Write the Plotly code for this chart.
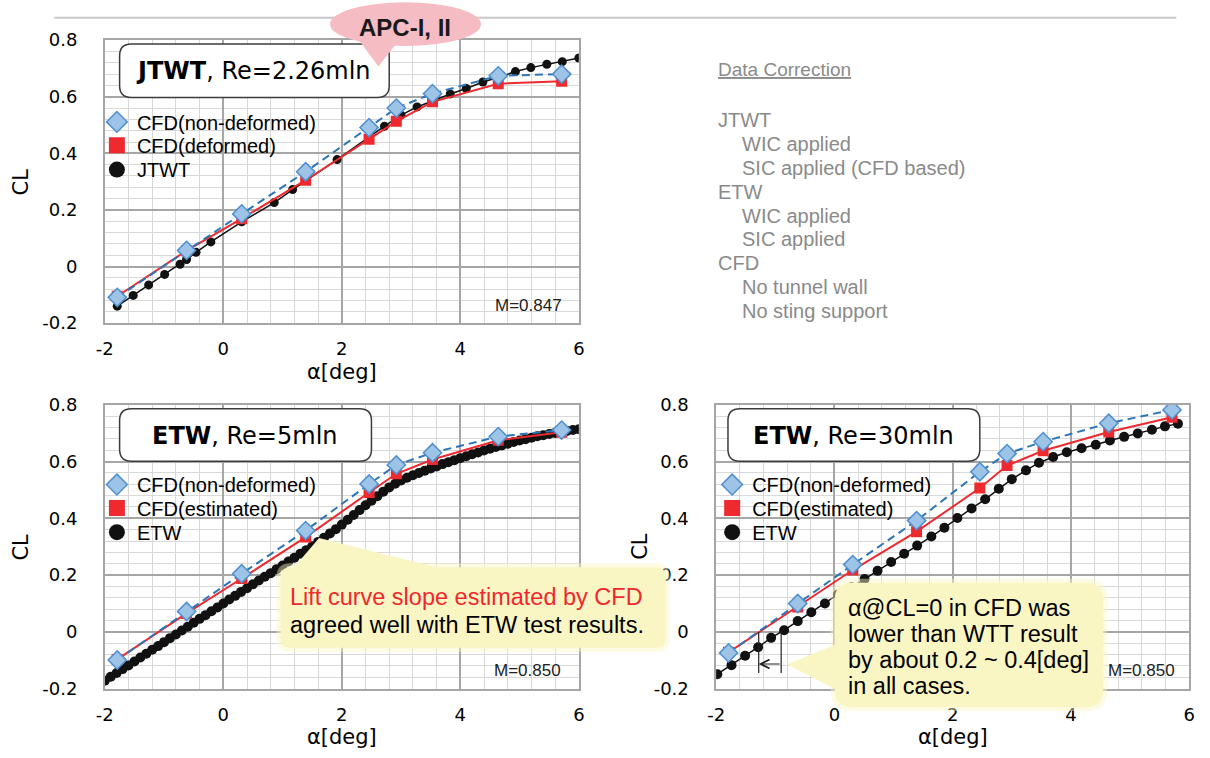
import plotly.graph_objects as go

W, H = 1210, 758

# ---------------- data ----------------
cfd_alpha = [-1.79, -0.62, 0.31, 1.39, 2.46, 2.92, 3.53, 4.64, 5.71]

# Panel 1: JTWT, Re=2.26mln
jtwt_cfd_nondeformed = [-0.109, 0.057, 0.186, 0.335, 0.491, 0.560, 0.611, 0.674, 0.680]
jtwt_cfd_deformed = [-0.105, 0.056, 0.169, 0.305, 0.450, 0.513, 0.582, 0.646, 0.655]
jtwt_alpha = [-1.79, -1.52, -1.26, -0.99, -0.73, -0.62, -0.46, -0.21, 0.31, 0.86, 1.17,
              1.92, 2.72, 3.00, 3.27, 3.83, 4.10, 4.38, 4.65, 4.93, 5.19, 5.46, 5.72, 6.00]
jtwt_cl = [-0.140, -0.102, -0.065, -0.028, 0.008, 0.025, 0.050, 0.087, 0.158, 0.226, 0.272,
           0.378, 0.496, 0.535, 0.564, 0.610, 0.629, 0.652, 0.669, 0.689, 0.703, 0.715, 0.724, 0.737]

# Panel 2: ETW, Re=5mln
etw5_cfd_nondeformed = [-0.099, 0.072, 0.205, 0.357, 0.521, 0.588, 0.631, 0.688, 0.711]
etw5_cfd_estimated = [-0.097, 0.065, 0.188, 0.334, 0.491, 0.557, 0.607, 0.675, 0.703]
etw5_alpha = [-2.0, -1.9, -1.8, -1.7, -1.6, -1.5, -1.4, -1.3, -1.2, -1.1, -1.0, -0.9, -0.8, -0.7,
              -0.6, -0.5, -0.4, -0.3, -0.2, -0.1, 0.0, 0.1, 0.2, 0.3, 0.4, 0.5, 0.6, 0.7, 0.8,
              0.9, 1.0, 1.1, 1.2, 1.3, 1.4, 1.5, 1.6, 1.7, 1.8, 1.9, 2.0, 2.1, 2.2, 2.3, 2.4,
              2.5, 2.6, 2.7, 2.8, 2.9, 3.0, 3.1, 3.2, 3.3, 3.4, 3.5, 3.6, 3.7, 3.8, 3.9, 4.0,
              4.1, 4.2, 4.3, 4.4, 4.5, 4.6, 4.7, 4.8, 4.9, 5.0, 5.1, 5.2, 5.3, 5.4, 5.5, 5.6,
              5.7, 5.8, 5.9, 6.0]
etw5_cl = [-0.172, -0.158, -0.145, -0.131, -0.118, -0.104, -0.090, -0.077, -0.063, -0.050,
           -0.036, -0.022, -0.009, 0.005, 0.018, 0.032, 0.046, 0.059, 0.073, 0.086, 0.100,
           0.114, 0.127, 0.141, 0.154, 0.168, 0.181, 0.194, 0.207, 0.221, 0.234, 0.248,
           0.261, 0.275, 0.288, 0.302, 0.317, 0.332, 0.347, 0.362, 0.378, 0.395, 0.412,
           0.429, 0.446, 0.462, 0.478, 0.494, 0.509, 0.522, 0.533, 0.543, 0.552, 0.560,
           0.568, 0.576, 0.583, 0.591, 0.598, 0.605, 0.612, 0.619, 0.626, 0.632, 0.639,
           0.645, 0.651, 0.657, 0.663, 0.669, 0.674, 0.679, 0.684, 0.689, 0.693, 0.697,
           0.701, 0.704, 0.708, 0.711, 0.714]

# Panel 3: ETW, Re=30mln
etw30_cfd_nondeformed = [-0.074, 0.100, 0.237, 0.392, 0.564, 0.628, 0.670, 0.735, 0.782]
etw30_cfd_estimated = [-0.072, 0.088, 0.218, 0.353, 0.507, 0.586, 0.638, 0.704, 0.756]
etw30_alpha = [-1.98, -1.74, -1.51, -1.29, -1.07, -0.85, -0.62, -0.39, -0.16, 0.06, 0.29,
               0.51, 0.73, 0.96, 1.18, 1.40, 1.64, 1.86, 2.08, 2.32, 2.55, 2.78, 3.00, 3.24,
               3.46, 3.70, 3.93, 4.18, 4.42, 4.66, 4.90, 5.13, 5.37, 5.59, 5.81]
etw30_cl = [-0.149, -0.117, -0.084, -0.054, -0.021, 0.006, 0.038, 0.069, 0.100, 0.132, 0.157,
            0.186, 0.215, 0.246, 0.275, 0.304, 0.336, 0.367, 0.401, 0.435, 0.467, 0.504,
            0.538, 0.569, 0.596, 0.616, 0.633, 0.647, 0.659, 0.674, 0.687, 0.699, 0.712,
            0.724, 0.733]

# zero-lift angles marked in panel 3
alpha_cl0_cfd = -1.28
alpha_cl0_etw = -0.90

x_ticks = [-2, 0, 2, 4, 6]
x_ticktext = ["-2", "0", "2", "4", "6"]
y_ticks = [-0.2, 0, 0.2, 0.4, 0.6, 0.8]
y_ticktext = ["-0.2", "0", "0.2", "0.4", "0.6", "0.8"]

legend_names = [
    ["CFD(non-deformed)", "CFD(deformed)", "JTWT"],
    ["CFD(non-deformed)", "CFD(estimated)", "ETW"],
    ["CFD(non-deformed)", "CFD(estimated)", "ETW"],
]
panel_titles = ["<b>JTWT</b>, Re=2.26mln", "<b>ETW</b>, Re=5mln", "<b>ETW</b>, Re=30mln"]
mach_labels = ["M=0.847", "M=0.850", "M=0.850"]
correction_lines = [
    ("JTWT", 0), ("WIC applied", 1), ("SIC applied (CFD based)", 1),
    ("ETW", 0), ("WIC applied", 1), ("SIC applied", 1),
    ("CFD", 0), ("No tunnel wall", 1), ("No sting support", 1),
]

# ---------------- helpers ----------------
def X(px):
    return px / W

def Y(py):
    return 1 - py / H

def P(x, y):
    return f"{X(x):.5f},{Y(y):.5f}"

def rrect(x0, y0, x1, y1, r):
    return ("M " + P(x0 + r, y0) + " L " + P(x1 - r, y0) + " Q " + P(x1, y0) + " " + P(x1, y0 + r) +
            " L " + P(x1, y1 - r) + " Q " + P(x1, y1) + " " + P(x1 - r, y1) +
            " L " + P(x0 + r, y1) + " Q " + P(x0, y1) + " " + P(x0, y1 - r) +
            " L " + P(x0, y0 + r) + " Q " + P(x0, y0) + " " + P(x0 + r, y0) + " Z")

def poly(pts):
    return "M " + " L ".join(P(a, b) for a, b in pts) + " Z"

# panel pixel boxes (left, top, right, bottom)
panels = [(97, 30, 577, 321), (97, 405, 577, 697), (716, 405, 1195, 697)]

BLUE_LINE = "#2E75B6"
BLUE_FILL = "#9DC3E6"
BLUE_EDGE = "#4F8FD0"
RED = "#EE2A2F"
BLACK = "#111111"

fig = go.Figure()

series = [
    (jtwt_cfd_nondeformed, jtwt_cfd_deformed, jtwt_alpha, jtwt_cl, 9),
    (etw5_cfd_nondeformed, etw5_cfd_estimated, etw5_alpha, etw5_cl, 10),
    (etw30_cfd_nondeformed, etw30_cfd_estimated, etw30_alpha, etw30_cl, 10),
]

# legend rows (pixel): legend left x, row centre y for each panel
legend_rows = [(89, [113, 137, 162]), (89, [486, 510, 535]), (712, [486, 510, 535])]
LEG_DY = 19     # offset from row centre to legend top

legend_defs = {}
leg_counter = 0

def next_legend(xpx, ypx):
    global leg_counter
    leg_counter += 1
    key = "legend" if leg_counter == 1 else f"legend{leg_counter}"
    legend_defs[key] = dict(x=X(xpx), y=Y(ypx - LEG_DY), xanchor="left", yanchor="top",
                            bgcolor="rgba(0,0,0,0)", borderwidth=0,
                            font=dict(family="Liberation Sans, Arial", size=20, color="black"),
                            itemclick=False, itemdoubleclick=False)
    return key

for i, (nd, de, ea, ec, msize) in enumerate(series):
    xa = "x" if i == 0 else f"x{i+1}"
    ya = "y" if i == 0 else f"y{i+1}"
    fig.add_trace(go.Scatter(x=ea, y=ec, mode="lines+markers", xaxis=xa, yaxis=ya,
                             line=dict(color=BLACK, width=1.5),
                             marker=dict(symbol="circle", size=msize, color=BLACK),
                             showlegend=False))
    fig.add_trace(go.Scatter(x=cfd_alpha, y=de, mode="lines+markers", xaxis=xa, yaxis=ya,
                             line=dict(color=RED, width=2),
                             marker=dict(symbol="square", size=11, color=RED),
                             showlegend=False))
    fig.add_trace(go.Scatter(x=cfd_alpha, y=nd, mode="lines+markers", xaxis=xa, yaxis=ya,
                             line=dict(color=BLUE_LINE, width=2, dash="8px,5px"),
                             marker=dict(symbol="diamond", size=14, color=BLUE_FILL,
                                         line=dict(color=BLUE_EDGE, width=1.5)),
                             showlegend=False))
    names = legend_names[i]
    lx, rows = legend_rows[i]
    markers = [
        dict(symbol="diamond", size=20, color=BLUE_FILL, line=dict(color=BLUE_EDGE, width=1.5)),
        dict(symbol="square", size=18, color=RED),
        dict(symbol="circle", size=18, color=BLACK),
    ]
    for name, mk, ry in zip(names, markers, rows):
        lg = next_legend(lx, ry)
        fig.add_trace(go.Scatter(x=[None], y=[None], mode="markers", xaxis=xa, yaxis=ya,
                                 name=name, legend=lg, marker=mk))

layout = dict(
    width=W, height=H, margin=dict(l=0, r=0, t=0, b=0),
    paper_bgcolor="white", plot_bgcolor="white",
    showlegend=True,
    font=dict(family="Liberation Sans, Arial, sans-serif", color="black"),
)
layout.update(legend_defs)

for i, (l, t, r, b) in enumerate(panels):
    xk = "xaxis" if i == 0 else f"xaxis{i+1}"
    yk = "yaxis" if i == 0 else f"yaxis{i+1}"
    xa = "x" if i == 0 else f"x{i+1}"
    ya = "y" if i == 0 else f"y{i+1}"
    layout[xk] = dict(
        domain=[X(l), X(r)], anchor=ya, range=[-2, 6],
        tickmode="array", tickvals=x_ticks, ticktext=x_ticktext,
        showgrid=True, gridcolor="#A6A6A6", gridwidth=1.5,
        minor=dict(tickmode="linear", tick0=-2, dtick=0.4, showgrid=True,
                   gridcolor="#D9D9D9", gridwidth=1),
        showline=True, mirror=True, linecolor="#A6A6A6", linewidth=1.5,
        zeroline=False, ticks="", ticklabelstandoff=9,
        tickfont=dict(family="DejaVu Sans", size=18, color="black"),
    )
    layout[yk] = dict(
        domain=[Y(b), Y(t)], anchor=xa, range=[-0.2, 0.8],
        tickmode="array", tickvals=y_ticks, ticktext=y_ticktext,
        showgrid=True, gridcolor="#A6A6A6", gridwidth=1.5,
        minor=dict(tickmode="linear", tick0=-0.2, dtick=0.04, showgrid=True,
                   gridcolor="#D9D9D9", gridwidth=1),
        showline=True, mirror=True, linecolor="#A6A6A6", linewidth=1.5,
        zeroline=False, ticks="", ticklabelstandoff=22,
        tickfont=dict(family="DejaVu Sans", size=18, color="black"),
    )

shapes = []
annotations = []

# top rule line
shapes.append(dict(type="line", xref="paper", yref="paper", x0=X(46), x1=X(1182), y0=Y(7), y1=Y(7),
                   line=dict(color="#C8C8C8", width=2), layer="above"))

# title boxes
title_boxes = [(112, 34, 385, 89), (112, 409, 367, 463), (728, 409, 983, 463)]
title_centers = [(248, 62), (239, 437), (855, 437)]
for (x0, y0, x1, y1), (cx, cy), txt in zip(title_boxes, title_centers, panel_titles):
    shapes.append(dict(type="path", xref="paper", yref="paper", path=rrect(x0, y0, x1, y1, 12),
                       fillcolor="white", line=dict(color="#3C3C3C", width=1.5), layer="above"))
    annotations.append(dict(xref="paper", yref="paper", x=X(cx), y=Y(cy), text=txt, showarrow=False,
                            xanchor="center", yanchor="middle",
                            font=dict(family="DejaVu Sans", size=24, color="black")))

# pink APC callout
PINK = "#F5BCC3"
shapes.append(dict(type="path", xref="paper", yref="paper",
                   path=poly([(350, 24), (398, 26), (374, 57)]),
                   fillcolor=PINK, line=dict(width=0), layer="above"))
shapes.append(dict(type="circle", xref="paper", yref="paper", x0=X(325), x1=X(478), y0=Y(-9), y1=Y(36),
                   fillcolor=PINK, line=dict(width=0), layer="above"))
annotations.append(dict(xref="paper", yref="paper", x=X(401), y=Y(17), text="<b>APC-I, II</b>",
                        showarrow=False, xanchor="center", yanchor="middle",
                        font=dict(family="Liberation Sans, Arial", size=24, color="#1a1a1a")))

# M labels
mach_pos = [(526, 303), (525, 678), (1147, 678)]
for (mx, my), txt in zip(mach_pos, mach_labels):
    annotations.append(dict(xref="paper", yref="paper", x=X(mx), y=Y(my), text=txt, showarrow=False,
                            xanchor="center", yanchor="middle",
                            font=dict(family="Liberation Sans, Arial", size=17, color="#222222")))

# axis titles
for (l, t, r, b) in panels:
    annotations.append(dict(xref="paper", yref="paper", x=X((l + r) / 2), y=Y(b + 50), text="α[deg]",
                            showarrow=False, xanchor="center", yanchor="middle",
                            font=dict(family="DejaVu Sans", size=21, color="black")))
    annotations.append(dict(xref="paper", yref="paper", x=X(l - 85 if l < 600 else l - 77),
                            y=Y((t + b) / 2), text="CL", textangle=-90,
                            showarrow=False, xanchor="center", yanchor="middle",
                            font=dict(family="DejaVu Sans", size=21, color="black")))

# Data correction block
GRAY = "#8A8A8A"
annotations.append(dict(xref="paper", yref="paper", x=X(716), y=Y(60), text="<u>Data Correction</u>",
                        showarrow=False, xanchor="left", yanchor="middle",
                        font=dict(family="Liberation Sans, Arial", size=19, color=GRAY)))
for k, (txt, ind) in enumerate(correction_lines):
    annotations.append(dict(xref="paper", yref="paper", x=X(716 + 24 * ind), y=Y(112 + 24.6 * k),
                            text=txt, showarrow=False, xanchor="left", yanchor="middle",
                            font=dict(family="Liberation Sans, Arial", size=20, color=GRAY)))

# yellow callouts
YEL = "#FAF6C4"
YEL_GLOW = "rgba(250,246,196,0.45)"
shapes.append(dict(type="path", xref="paper", yref="paper", path=rrect(271, 568, 669, 659, 14),
                   fillcolor=YEL_GLOW, line=dict(width=0), layer="above"))
shapes.append(dict(type="path", xref="paper", yref="paper",
                   path=poly([(314, 542), (282, 580), (440, 574)]),
                   fillcolor=YEL, line=dict(width=0), layer="above"))
shapes.append(dict(type="path", xref="paper", yref="paper", path=rrect(275, 572, 665, 655, 10),
                   fillcolor=YEL, line=dict(width=0), layer="above"))
annotations.append(dict(xref="paper", yref="paper", x=X(283), y=Y(603),
                        text="Lift curve slope estimated by CFD", showarrow=False,
                        xanchor="left", yanchor="middle",
                        font=dict(family="Liberation Sans, Arial", size=23.5, color="#F0282D")))
annotations.append(dict(xref="paper", yref="paper", x=X(283), y=Y(632),
                        text="agreed well with ETW test results.", showarrow=False,
                        xanchor="left", yanchor="middle",
                        font=dict(family="Liberation Sans, Arial", size=23.5, color="black")))

# vertical markers + arrow in panel 3 (data coords)
for a in (alpha_cl0_cfd, alpha_cl0_etw):
    shapes.append(dict(type="line", xref="x3", yref="y3", x0=a, x1=a, y0=0, y1=-0.145,
                       line=dict(color="#222222", width=1.2), layer="above"))

shapes.append(dict(type="path", xref="paper", yref="paper", path=rrect(832, 584, 1112, 720, 20),
                   fillcolor=YEL_GLOW, line=dict(width=0), layer="above"))
shapes.append(dict(type="path", xref="paper", yref="paper",
                   path=poly([(788, 672), (845, 648), (845, 702)]),
                   fillcolor=YEL, line=dict(width=0), layer="above"))
shapes.append(dict(type="path", xref="paper", yref="paper", path=rrect(836, 588, 1108, 716, 18),
                   fillcolor=YEL, line=dict(width=0), layer="above"))
callout2 = ["α@CL=0 in CFD was", "lower than WTT result", "by about 0.2 ~ 0.4[deg]", "in all cases."]
for k, txt in enumerate(callout2):
    annotations.append(dict(xref="paper", yref="paper", x=X(847), y=Y(614 + 26.7 * k), text=txt,
                            showarrow=False, xanchor="left", yanchor="middle",
                            font=dict(family="Liberation Sans, Arial", size=23.5, color="black")))

annotations.append(dict(xref="x3", yref="y3", x=alpha_cl0_cfd, y=-0.113, ax=alpha_cl0_etw, ay=-0.113,
                        axref="x3", ayref="y3", text="", showarrow=True, arrowhead=5, arrowsize=1.6,
                        arrowwidth=1.1, arrowcolor="#222222", standoff=0, startstandoff=0))

layout["shapes"] = shapes
layout["annotations"] = annotations
fig.update_layout(**layout)

fig.write_html("out.html")
